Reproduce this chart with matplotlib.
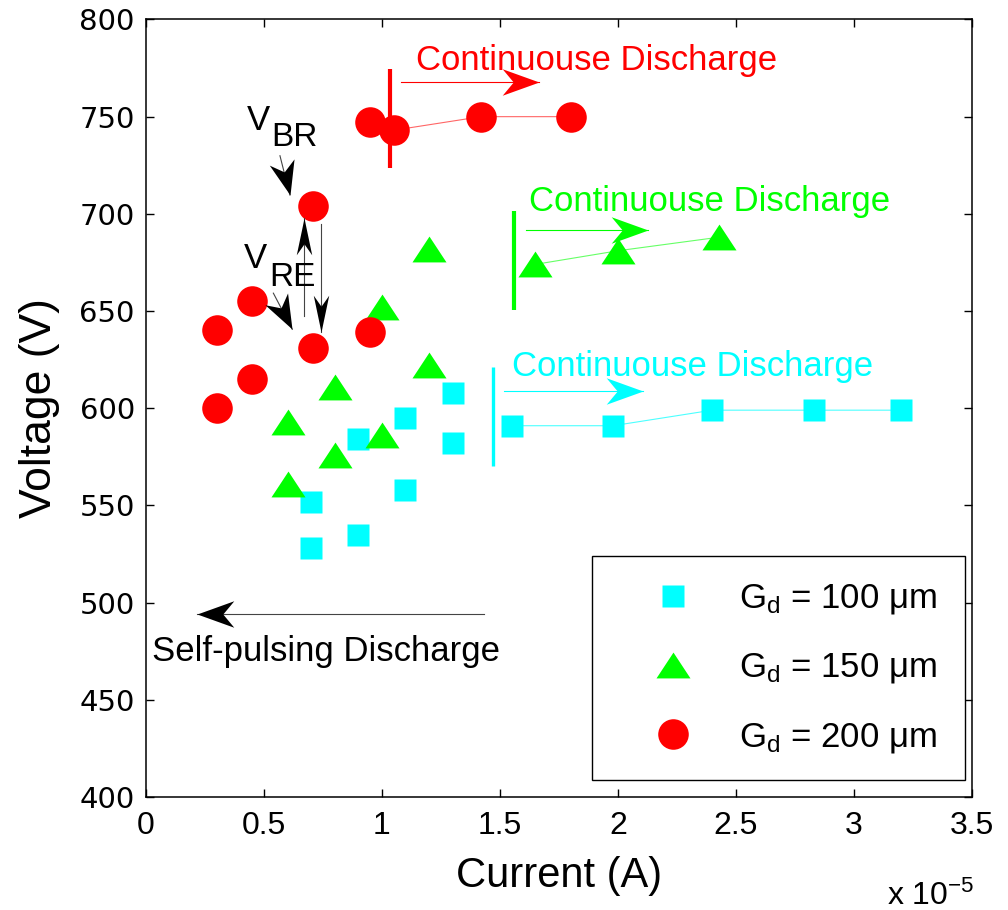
import numpy as np
import matplotlib.pyplot as plt
from matplotlib.lines import Line2D
from matplotlib.markers import MarkerStyle
from matplotlib.transforms import Affine2D

plt.rcParams['font.family'] = ['Liberation Sans', 'DejaVu Sans']
plt.rcParams['mathtext.default'] = 'regular'

# current in units of 1e-5 A, voltage in V
cur_100 = [0.70, 0.70, 0.90, 0.90, 1.10, 1.10, 1.30, 1.30, 1.55, 1.98, 2.40, 2.83, 3.20]
volt_100 = [552, 528, 535, 584, 595, 558, 608, 582, 591, 591, 599, 599, 599]
cur_150 = [0.60, 0.60, 0.80, 0.80, 1.00, 1.00, 1.20, 1.20, 1.65, 2.00, 2.43]
volt_150 = [593, 561, 611, 576, 586, 652, 682, 622, 674, 681, 688]
cur_200 = [0.30, 0.30, 0.45, 0.45, 0.71, 0.71, 0.95, 0.95, 1.05, 1.42, 1.80]
volt_200 = [600, 640, 655, 615, 704, 631, 639, 747, 743, 750, 750]

# first index of the continuous-discharge points in each series
cont_start = {'100': 8, '150': 8, '200': 8}

# discharge boundary (x, y_low, y_high)
bound_100 = (1.469, 570.3, 621.4)
bound_150 = (1.561, 650.6, 701.6)
bound_200 = (1.034, 723.6, 774.5)

# arrows: tail -> tip
arr_100 = ((1.516, 608.9), (2.107, 608.9))
arr_150 = ((1.610, 691.9), (2.128, 691.9))
arr_200 = ((1.081, 767.7), (1.666, 767.7))
arr_pulse = ((1.434, 494.3), (0.215, 494.3))
arr_br = ((0.568, 729.9), (0.610, 709.7))
arr_re = ((0.540, 659.2), (0.620, 640.6))
arr_up = ((0.670, 647.6), (0.670, 697.7))
arr_down = ((0.741, 694.6), (0.741, 639.4))

C_CYAN = '#00ffff'
C_GREEN = '#00ff00'
C_RED = '#ff0000'

tri = [(-1, -0.76), (1, -0.76), (0, 0.76)]

fig = plt.figure(figsize=(10.08, 9.10), dpi=100)
ax = fig.add_axes([0.1448, 0.1242, 0.8192, 0.8544])
ax.set_xlim(0, 3.5)
ax.set_ylim(400, 800)

# connecting lines for the continuous regime
ax.plot(cur_100[cont_start['100']:], volt_100[cont_start['100']:], color=C_CYAN, lw=0.8, alpha=0.7)
ax.plot(cur_150[cont_start['150']:], volt_150[cont_start['150']:], color=C_GREEN, lw=0.8, alpha=0.6)
ax.plot(cur_200[cont_start['200']:], volt_200[cont_start['200']:], color=C_RED, lw=0.8, alpha=0.6)

ax.plot(cur_100, volt_100, ls='none', marker='s', ms=16.5, color=C_CYAN, mec='none')
ax.plot(cur_150, volt_150, ls='none', marker=tri, ms=24.5, color=C_GREEN, mec='none')
ax.plot(cur_200, volt_200, ls='none', marker='o', ms=22, color=C_RED, mec='none')

for (bx, y0, y1), c, w in [(bound_100, C_CYAN, 2.4), (bound_150, C_GREEN, 3.0), (bound_200, C_RED, 3.0)]:
    ax.plot([bx, bx], [y0, y1], color=c, lw=w, solid_capstyle='butt')


def arrow(ends, color, line_color=None, width=0.72, size=53):
    # thin shaft plus a barbed head turned along the shaft
    (x0, y0), (x1, y1) = ends
    ax.plot([x0, x1], [y0, y1], color=line_color or color, lw=0.8, zorder=3)
    p0 = ax.transData.transform((x0, y0))
    p1 = ax.transData.transform((x1, y1))
    ang = np.degrees(np.arctan2(p1[1] - p0[1], p1[0] - p0[0]))
    head = [(0, 0), (-1, width / 2), (-0.7, 0), (-1, -width / 2), (0, 0)]
    m = MarkerStyle(head, transform=Affine2D().rotate_deg(ang))
    ax.plot([x1], [y1], ls='none', marker=m, ms=size, color=color, mec='none', zorder=4)


arrow(arr_100, C_CYAN)
arrow(arr_150, C_GREEN)
arrow(arr_200, C_RED)
arrow(arr_pulse, 'black', '#444444')
arrow(arr_br, 'black', '#444444', width=0.75, size=49)
arrow(arr_re, 'black', '#444444', width=0.75, size=49)
arrow(arr_up, 'black', '#444444', width=0.42)
arrow(arr_down, 'black', '#444444', width=0.42)

fs = 25
ax.text(1.145, 774.0, 'Continuouse Discharge', color=C_RED, fontsize=fs)
ax.text(1.624, 701.6, 'Continuouse Discharge', color=C_GREEN, fontsize=fs)
ax.text(1.553, 616.8, 'Continuouse Discharge', color=C_CYAN, fontsize=fs)
ax.text(0.024, 469.7, 'Self-pulsing Discharge', color='black', fontsize=fs)
ax.text(0.427, 743.2, 'V', fontsize=fs)
ax.text(0.533, 735.1, 'BR', fontsize=fs - 1)
ax.text(0.415, 672.0, 'V', fontsize=fs)
ax.text(0.521, 662.9, 'RE', fontsize=fs - 1)

ax.set_xticks(np.arange(0, 3.51, 0.5))
ax.set_xticklabels(['0', '0.5', '1', '1.5', '2', '2.5', '3', '3.5'])
ax.set_yticks(np.arange(400, 801, 50))
ax.tick_params(direction='in', length=6, width=1, top=True, right=True)
ax.tick_params(axis='x', labelsize=23, pad=10)
ax.tick_params(axis='y', labelsize=21, pad=8)
for lab in ax.get_yticklabels():
    lab.set_family('DejaVu Sans')
for s in ax.spines.values():
    s.set_linewidth(1.1)

ax.set_xlabel('Current (A)', fontsize=30, labelpad=11)
ax.set_ylabel('Voltage (V)', fontsize=32, labelpad=14)
fig.text(887 / 1008, 1 - 905 / 910, 'x 10$^{-5}$', fontsize=23)

handles = [
    Line2D([], [], ls='none', marker='s', ms=16.5, color=C_CYAN, mec='none'),
    Line2D([], [], ls='none', marker=tri, ms=24.5, color=C_GREEN, mec='none'),
    Line2D([], [], ls='none', marker='o', ms=22, color=C_RED, mec='none'),
]
labels = ['G$_{d}$ = 100 μm', 'G$_{d}$ = 150 μm', 'G$_{d}$ = 200 μm']
leg = ax.legend(handles, labels, loc='lower left', mode='expand',
                bbox_to_anchor=(0.540, 0.0219, 0.452, 0.289), borderaxespad=0,
                fontsize=25, frameon=True, fancybox=False, framealpha=1,
                edgecolor='black', borderpad=0.73, labelspacing=1.0,
                handlelength=3.2, handletextpad=0.3)
leg.get_frame().set_linewidth(1.0)

fig.savefig('out.png', dpi=100)
